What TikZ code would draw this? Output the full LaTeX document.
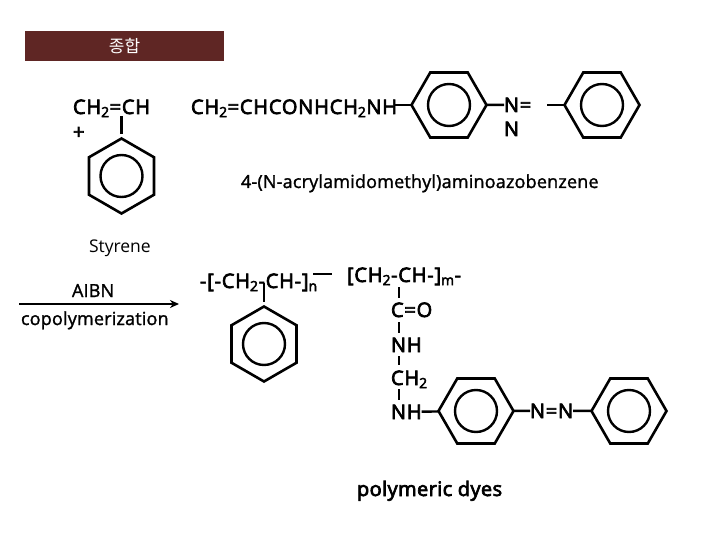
\documentclass[tikz,border=0pt]{standalone}
\usepackage{fontspec}
\setmainfont{Open Sans}
\newfontfamily\krfont{Noto Sans CJK KR}
\newfontfamily\chemfont[FakeBold=3.5, LetterSpace=4]{Open Sans}
\newfontfamily\namefont[FakeBold=1.5, LetterSpace=1]{Open Sans}
\newfontfamily\dyefont[FakeBold=3.5, LetterSpace=2]{Open Sans}
\usetikzlibrary{shapes.geometric, positioning, arrows.meta}
\definecolor{bannerred}{HTML}{5F2624}
\tikzset{
    x=1pt, y=-1pt, % one unit is one pixel of the page
    >={Stealth[length=9pt, width=8pt]}, % makes the arrow heads bold
    node distance=153pt, % distance between two rings of the azo group
    ringflat/.style={regular polygon, regular polygon sides=6, draw, line width=2.6pt, minimum size=75pt, inner sep=0pt, outer sep=0pt},
    ringtip/.style={ringflat, shape border rotate=30},
    ringin/.style={circle, draw, line width=2.4pt, minimum size=42pt, inner sep=0pt, outer sep=0pt},
    chem/.style={font=\chemfont\fontsize{20}{22}\selectfont, anchor=base west, inner sep=0pt, outer sep=0pt},
    plain/.style={font=\namefont\fontsize{18}{20}\selectfont, anchor=base west, inner sep=0pt, outer sep=0pt},
    bond/.style={line width=2.4pt},
    thinbond/.style={line width=1.6pt},
}

\begin{document}
\begin{tikzpicture}
    \useasboundingbox (0,0) rectangle (720,540);
    \node[fill=bannerred, minimum width=199pt, minimum height=30pt, inner sep=0pt, text=white, font=\krfont\fontsize{17}{19}\selectfont] (title) at (124.5,46) {종합};
    % styrene
    \node[chem] (vinyl) at (73,114) {CH\textsubscript{2}=CH};
    \node[chem] (plus) at (73,139) {+};
    \node[ringtip] (r1) at (121.5,176) {};
    \node[ringin] (r1in) at (r1) {};
    \coordinate (r1top) at (121.5,116);
    \coordinate (r1end) at (121.5,134);
    \node[plain, font=\fontsize{17.5}{20}\selectfont] (styrene) at (89,252) {Styrene};
    % monomer
    \node[chem] (monomer) at (191,114) {CH\textsubscript{2}=CHCONHCH\textsubscript{2}NH};
    \coordinate (monoend) at (395,105);
    \node[ringflat] (r2) at (449,105) {};
    \node[ringin] (r2in) at (r2) {};
    \node[ringflat, right of=r2] (r3) {};
    \node[ringin] (r3in) at (r3) {};
    \node[chem] (azoa) at (504,112) {N=};
    \node[chem] (azob) at (504,136) {N};
    \coordinate (azoend) at (547,105);
    \node[plain] (mononame) at (241,188) {4-(N-acrylamidomethyl)aminoazobenzene};
    % reaction arrow
    \coordinate (arrstart) at (19,304);
    \coordinate (arrend) at (179,304);
    \node[plain] (aibn) at (72,297) {AIBN};
    \node[plain] (copoly) at (21,325) {copolymerization};
    % polymer, left part
    \node[chem] (pleft) at (200,288) {-[-CH\textsubscript{2}-CH-]\textsubscript{n}};
    \coordinate (plinea) at (313,274);
    \coordinate (plineb) at (332,274);
    \coordinate (ptop) at (264,283);
    \coordinate (pend) at (264,302);
    \node[ringtip] (r4) at (264,344) {};
    \node[ringin] (r4in) at (r4) {};
    % polymer, side chain
    \node[chem] (pright) at (347,282) {[CH\textsubscript{2}-CH-]\textsubscript{m}-};
    \node[chem] (co) at (391,317) {C=O};
    \node[chem] (nha) at (391,352) {NH};
    \node[chem] (cht) at (391,385) {CH\textsubscript{2}};
    \node[chem] (nhb) at (391,419) {NH};
    \coordinate (s1a) at (399,287);
    \coordinate (s1b) at (399,298);
    \coordinate (s2a) at (399,322);
    \coordinate (s2b) at (399,333);
    \coordinate (s3a) at (399,356);
    \coordinate (s3b) at (399,365);
    \coordinate (s4a) at (399,389);
    \coordinate (s4b) at (399,400);
    \node[ringflat] (r5) at (476,411) {};
    \node[ringin] (r5in) at (r5) {};
    \node[ringflat, right of=r5] (r6) {};
    \node[ringin] (r6in) at (r6) {};
    \node[chem] (nn) at (530,418) {N=N};
    \node[chem, font=\dyefont\fontsize{20}{22}\selectfont] (dyes) at (357,496) {polymeric dyes};

    \draw[bond] (r1top) -- (r1end);
    \draw[bond] (monoend) -- (r2);
    \draw[bond] (r2) -- (azoa);
    \draw[bond] (azoend) -- (r3);
    \draw[->, line width=1.6pt] (arrstart) -- (arrend);
    \draw[thinbond] (plinea) -- (plineb);
    \draw[thinbond] (ptop) -- (pend);
    \draw[bond] (s1a) -- (s1b);
    \draw[bond] (s2a) -- (s2b);
    \draw[bond] (s3a) -- (s3b);
    \draw[bond] (s4a) -- (s4b);
    \draw[bond] (nhb) -- (r5);
    \draw[bond] (r5) -- (nn);
    \draw[bond] (nn) -- (r6);
\end{tikzpicture}
\end{document}
